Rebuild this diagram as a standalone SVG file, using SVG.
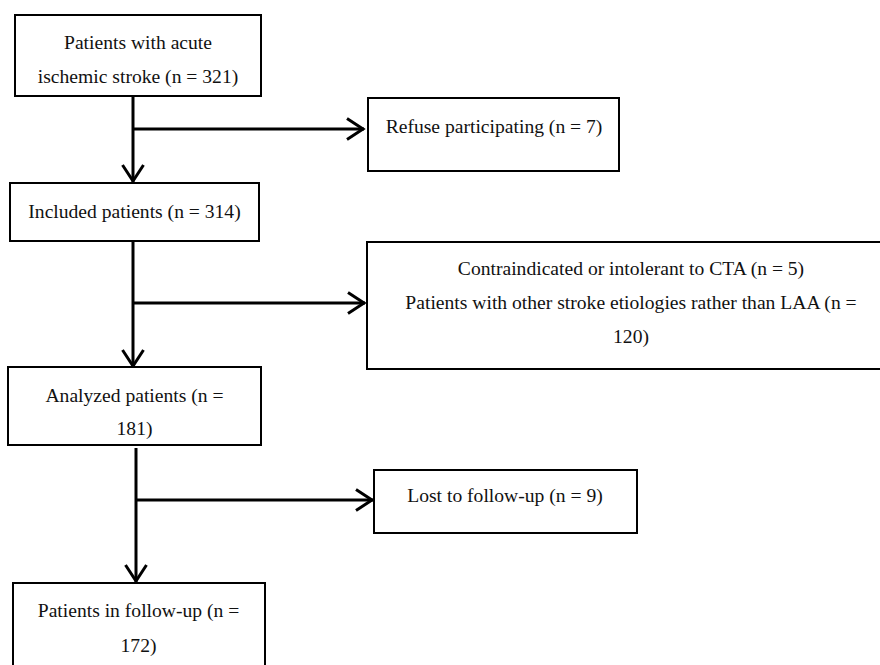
<svg xmlns="http://www.w3.org/2000/svg" width="880" height="665" viewBox="0 0 880 665">
<defs>
<style>
.box{fill:#fff;stroke:#000;stroke-width:2}
.t{font-family:"Liberation Serif","Times New Roman",serif;font-size:19.6px;fill:#111;text-anchor:middle}
.c{fill:none;stroke:#000;stroke-width:3}
</style>
<marker id="ah" markerUnits="userSpaceOnUse" markerWidth="22" markerHeight="26" refX="18" refY="12" orient="auto">
<path d="M1,1.5 L17,12 L1,22.5" fill="none" stroke="#000" stroke-width="3"/>
</marker>
</defs>
<rect width="880" height="665" fill="#fff"/>
<g id="connectors">
<path class="c" d="M133,96 V182" marker-end="url(#ah)"/>
<path class="c" d="M133,129 H364" marker-end="url(#ah)"/>
<path class="c" d="M133,241 V367" marker-end="url(#ah)"/>
<path class="c" d="M133,303 H365" marker-end="url(#ah)"/>
<path class="c" d="M136,448 V582" marker-end="url(#ah)"/>
<path class="c" d="M136,500 H373" marker-end="url(#ah)"/>
</g>
<g id="n1">
<rect class="box" x="15" y="15" width="246" height="81"/>
<text class="t" x="138" y="49">Patients with acute</text>
<text class="t" x="138" y="83">ischemic stroke (n = 321)</text>
</g>
<g id="n2">
<rect class="box" x="368" y="98" width="251" height="73"/>
<text class="t" x="494" y="133">Refuse participating (n = 7)</text>
</g>
<g id="n3">
<rect class="box" x="10" y="183" width="249" height="58"/>
<text class="t" x="134.5" y="218">Included patients (n = 314)</text>
</g>
<g id="n4">
<rect class="box" x="367" y="242" width="540" height="127"/>
<text class="t" x="631" y="275">Contraindicated or intolerant to CTA (n = 5)</text>
<text class="t" x="631" y="309">Patients with other stroke etiologies rather than LAA (n =</text>
<text class="t" x="631" y="343">120)</text>
</g>
<g id="n5">
<rect class="box" x="8" y="367" width="253" height="78"/>
<text class="t" x="134.5" y="402">Analyzed patients (n =</text>
<text class="t" x="134.5" y="435">181)</text>
</g>
<g id="n6">
<rect class="box" x="374" y="470" width="263" height="63"/>
<text class="t" x="505" y="502">Lost to follow-up (n = 9)</text>
</g>
<g id="n7">
<rect class="box" x="13" y="583" width="252" height="90"/>
<text class="t" x="138.5" y="617">Patients in follow-up (n =</text>
<text class="t" x="138.5" y="652">172)</text>
</g>
</svg>
